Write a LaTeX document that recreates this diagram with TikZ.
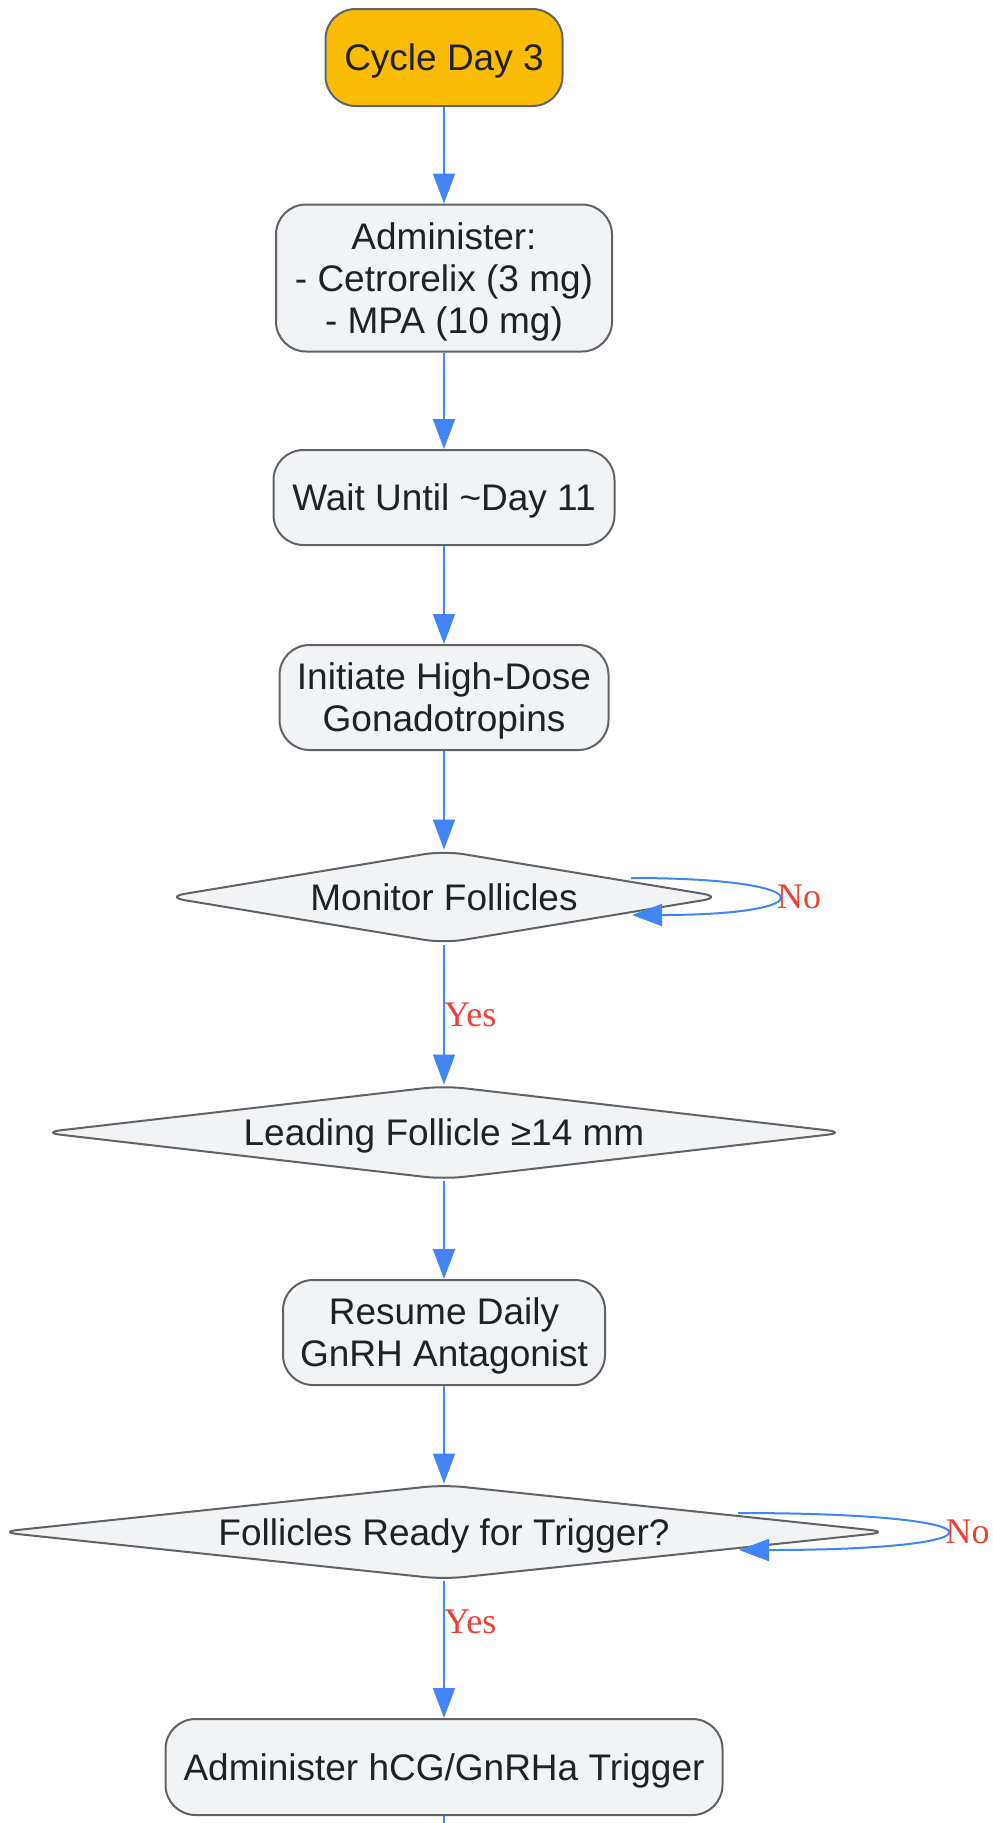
\documentclass[tikz,border=0pt]{standalone}
\usepackage{fontspec}
\setmainfont{Liberation Sans}
\newfontfamily\labelserif{Liberation Serif}
\usetikzlibrary{arrows.meta,calc,shapes.geometric}

\definecolor{flowblue}{RGB}{66,133,244}
\definecolor{boxfill}{RGB}{241,243,244}
\definecolor{boxline}{RGB}{95,99,104}
\definecolor{startfill}{RGB}{251,188,5}
\definecolor{ansred}{RGB}{234,67,53}
\definecolor{inktext}{RGB}{32,33,36}

\tikzset{
  stepbox/.style={draw=boxline, line width=2pt, fill=boxfill, rounded corners=30pt,
    align=center, inner sep=0pt, text depth=-4pt, text=inktext, font=\fontsize{37}{42}\selectfont},
  decision/.style={diamond, draw=boxline, line width=2pt, fill=boxfill, rounded corners=20pt,
    inner sep=0pt, text depth=-3pt, text=inktext, font=\fontsize{37}{42}\selectfont},
  flow/.style={draw=flowblue, line width=2pt, -{Triangle[length=30pt,width=22pt]}},
  answer/.style={text=ansred, font=\labelserif\fontsize{36}{40}\selectfont, inner sep=0pt, outer sep=0pt}
}

\begin{document}
\begin{tikzpicture}[x=1pt,y=-1pt]
\useasboundingbox (0,0) rectangle (993,1823);

\node[stepbox, fill=startfill, minimum width=237pt, minimum height=97pt] (cycle) at (444,57.5) {Cycle Day 3};
\node[stepbox, minimum width=336pt, minimum height=147pt] (admin) at (444,278) {Administer:\\- Cetrorelix (3 mg)\\- MPA (10 mg)};
\node[stepbox, minimum width=341pt, minimum height=95pt] (wait) at (444,497.5) {Wait Until \textasciitilde Day 11};
\node[stepbox, minimum width=329pt, minimum height=105pt] (gonad) at (444,697.5) {Initiate High-Dose\\Gonadotropins};
\node[decision, aspect=5.9, minimum width=558pt, minimum height=93pt] (monitor) at (444,897) {Monitor Follicles};
\node[decision, aspect=8.6, minimum width=806pt, minimum height=94pt] (leading) at (444,1132.5) {Leading Follicle ≥14 mm};
\node[stepbox, minimum width=322pt, minimum height=105pt] (resume) at (444,1332.5) {Resume Daily\\GnRH Antagonist};
\node[decision, aspect=9.4, minimum width=892pt, minimum height=95pt] (ready) at (444,1532) {Follicles Ready for Trigger?};
\node[stepbox, minimum width=557pt, minimum height=96pt] (trigger) at (444,1767) {Administer hCG/GnRHa Trigger};
\coordinate (onward) at (444,1823);

\draw[flow] (cycle.south) -- (admin.north);
\draw[flow] (admin.south) -- (wait.north);
\draw[flow] (wait.south) -- (gonad.north);
\draw[flow] (gonad.south) -- (monitor.north);
\draw[flow] (monitor.south) -- node[answer, right] {Yes} (leading.north);
\draw[flow] (leading.south) -- (resume.north);
\draw[flow] (resume.south) -- (ready.north);
\draw[flow] (ready.south) -- node[answer, right, pos=0.3] {Yes} (trigger.north);
\draw[draw=flowblue, line width=2pt] (trigger.south) -- (onward);

% no branches loop back
\draw[flow] ($(monitor.center)+(187,-19)$) .. controls +(194,0) and +(194,0) ..
  node[answer, right] {No} ($(monitor.center)+(188,18)$);
\draw[flow] ($(ready.center)+(294,-19)$) .. controls +(276,0) and +(276,0) ..
  node[answer, right] {No} ($(ready.center)+(295,18)$);
\end{tikzpicture}
\end{document}
